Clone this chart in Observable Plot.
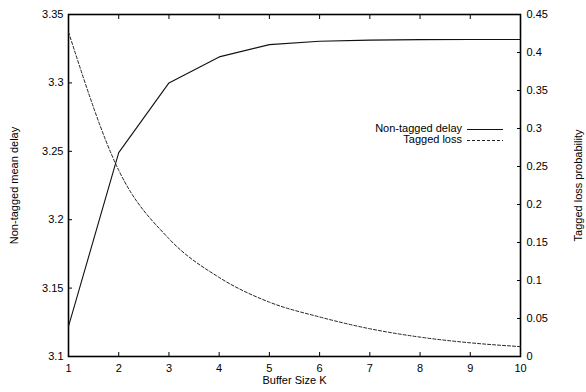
<!DOCTYPE html>
<html>
<head>
<meta charset="utf-8">
<script src="https://cdn.jsdelivr.net/npm/d3@7"></script>
<script src="https://cdn.jsdelivr.net/npm/@observablehq/plot@0.6"></script>
<style>
  html, body { margin: 0; padding: 0; background: #fff; }
</style>
</head>
<body>
<div id="chart"></div>
<script>
const bufferSize = [1, 2, 3, 4, 5, 6, 7, 8, 9, 10];
const nonTaggedDelay = [3.122, 3.249, 3.300, 3.319, 3.328, 3.3305, 3.3313, 3.3316, 3.3317, 3.3317];
const taggedLoss = [0.427, 0.245, 0.155, 0.104, 0.0715, 0.052, 0.0365, 0.0255, 0.018, 0.013];
const xTicks = [1, 2, 3, 4, 5, 6, 7, 8, 9, 10];
const delayTicks = [3.1, 3.15, 3.2, 3.25, 3.3, 3.35];
const lossTicks = [0, 0.05, 0.1, 0.15, 0.2, 0.25, 0.3, 0.35, 0.4, 0.45];
const delayDomain = [3.1, 3.35];
const lossDomain = [0, 0.45];

// map right-axis (loss) values onto the left-axis (delay) scale
const lossToDelay = d3.scaleLinear().domain(lossDomain).range(delayDomain);

const delayData = bufferSize.map((k, i) => ({k, v: nonTaggedDelay[i]}));
const lossData = bufferSize.map((k, i) => ({k, v: lossToDelay(taggedLoss[i])}));

const font = "'Liberation Sans', Arial, Helvetica, sans-serif";

const plot = Plot.plot({
  width: 586,
  height: 392,
  marginLeft: 68,
  marginRight: 66,
  marginTop: 14,
  marginBottom: 36,
  style: {fontFamily: font, fontSize: "11px", background: "#fff", color: "#000"},
  x: {domain: [1, 10]},
  y: {domain: delayDomain},
  marks: [
    Plot.axisX(xTicks, {anchor: "bottom", tickSize: -4, tickPadding: 12, label: null, tickFormat: d => String(d)}),
    Plot.axisX(xTicks, {anchor: "top", tickSize: -4, tickFormat: () => "", label: null}),
    Plot.axisY(delayTicks, {anchor: "left", tickSize: -4, tickPadding: 9, label: null, tickFormat: d => String(+d.toFixed(2))}),
    Plot.axisY(lossTicks.map(t => lossToDelay(t)), {anchor: "right", tickSize: -4, tickPadding: 10, label: null,
      tickFormat: d => String(+lossToDelay.invert(d).toFixed(2))}),
    Plot.frame({stroke: "#000", strokeWidth: 1.6}),
    Plot.line(delayData, {x: "k", y: "v", stroke: "#111", strokeWidth: 1.1}),
    Plot.line(lossData, {x: "k", y: "v", stroke: "#222", strokeWidth: 1, strokeDasharray: "3,2", curve: "monotone-x"}),
    Plot.text(["Non-tagged mean delay"], {frameAnchor: "left", dx: -54, rotate: -90, textAnchor: "middle", fontSize: 11, fill: "#000"}),
    Plot.text(["Tagged loss probability"], {frameAnchor: "right", dx: 58, rotate: -90, textAnchor: "middle", fontSize: 11, fill: "#000"}),
    Plot.text(["Buffer Size K"], {frameAnchor: "bottom", dy: 27, fontSize: 11, fill: "#000"})
  ]
});

document.getElementById("chart").appendChild(plot);

// in-plot legend (pixel positions, like gnuplot's key)
const svg = d3.select(plot);
const key = svg.append("g").attr("font-family", font).attr("font-size", 11).attr("fill", "#000");
key.append("text").attr("x", 462).attr("y", 132).attr("text-anchor", "end").text("Non-tagged delay");
key.append("line").attr("x1", 467).attr("x2", 503).attr("y1", 129.5).attr("y2", 129.5)
  .attr("stroke", "#111").attr("stroke-width", 1.1);
key.append("text").attr("x", 462).attr("y", 143).attr("text-anchor", "end").text("Tagged loss");
key.append("line").attr("x1", 467).attr("x2", 503).attr("y1", 140.5).attr("y2", 140.5)
  .attr("stroke", "#222").attr("stroke-width", 1).attr("stroke-dasharray", "3,2");
</script>
</body>
</html>
